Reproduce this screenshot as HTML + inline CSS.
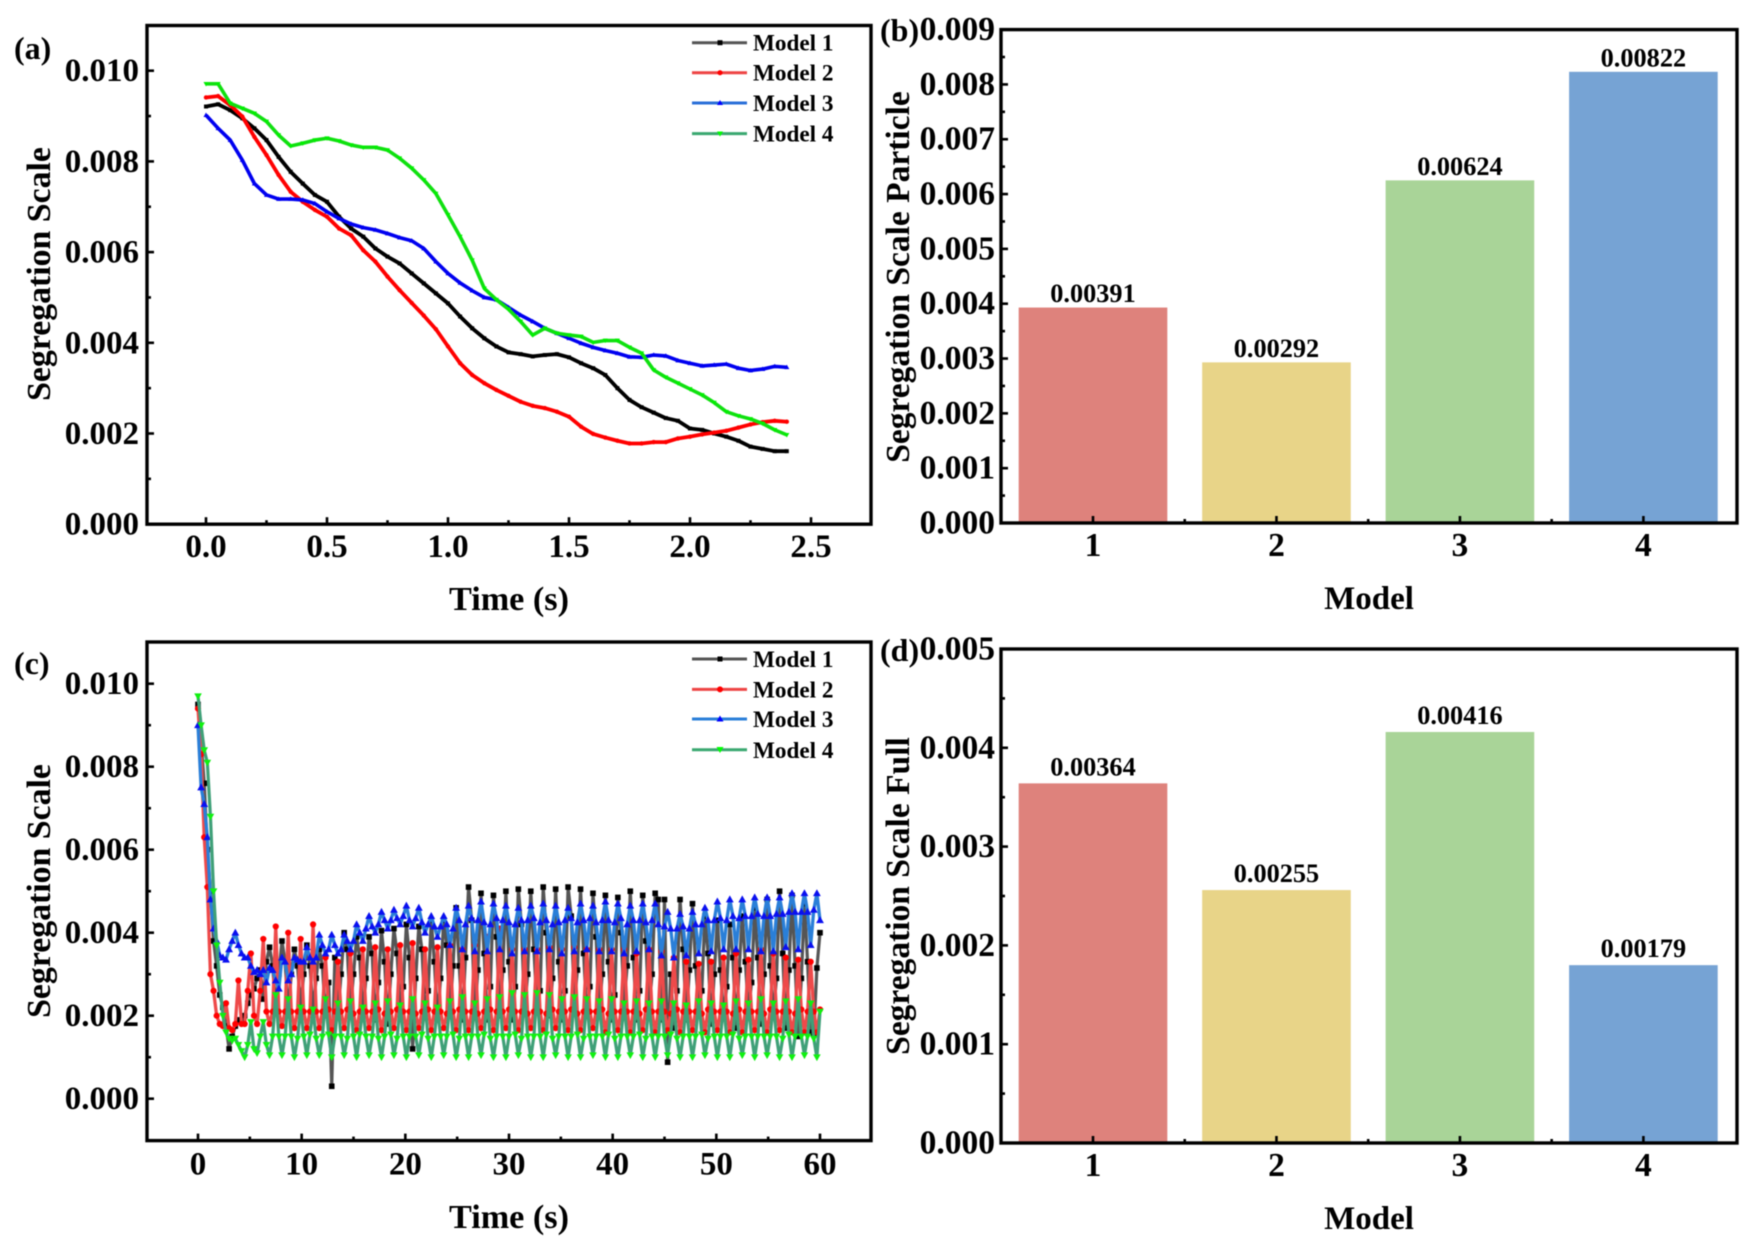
<!DOCTYPE html>
<html lang="en">
<head>
<meta charset="utf-8">
<title>Segregation Scale Charts</title>
<style>
html,body{margin:0;padding:0;background:#fff;}
svg{display:block;filter:blur(0.6px);}
text{font-family:"Liberation Serif",serif;font-weight:bold;fill:#000;}
</style>
</head>
<body>
<svg id="figure" xmlns="http://www.w3.org/2000/svg" width="1757" height="1242" viewBox="0 0 1757 1242">
  <rect x="0" y="0" width="1757" height="1242" fill="#fff"/>

  <g id="panel-a">
    <text x="14" y="59" font-size="32">(a)</text>
    <text transform="translate(50,274) rotate(-90)" text-anchor="middle" font-size="33.8">Segregation Scale</text>
    <text x="509" y="610" text-anchor="middle" font-size="34.2">Time (s)</text>
    <g font-size="23.2">
      <g><line x1="692" x2="747" y1="42.7" y2="42.7" stroke="#555" stroke-width="3"/><rect x="717.5" y="40.2" width="5" height="5" fill="#000"/><text x="753" y="50.5">Model 1</text></g>
      <g><line x1="692" x2="747" y1="72.7" y2="72.7" stroke="#e44" stroke-width="3"/><circle cx="720" cy="72.7" r="2.6" fill="#f00"/><text x="753" y="80.5">Model 2</text></g>
      <g><line x1="692" x2="747" y1="103" y2="103" stroke="#2a6fd8" stroke-width="3"/><polygon points="720,100 723,105 717,105" fill="#00f"/><text x="753" y="111">Model 3</text></g>
      <g><line x1="692" x2="747" y1="133.6" y2="133.6" stroke="#3aa870" stroke-width="3"/><polygon points="717,131.5 723,131.5 720,136.5" fill="#0f0"/><text x="753" y="141.5">Model 4</text></g>
    </g>
  </g>

  <g id="panel-b">
    <text x="880" y="41" font-size="32">(b)</text>
    <text transform="translate(909,277) rotate(-90)" text-anchor="middle" font-size="33.5">Segregation Scale Particle</text>
    <text x="1369" y="609" text-anchor="middle" font-size="33">Model</text>
  </g>

  <g id="panel-c">
    <text x="14" y="674" font-size="32">(c)</text>
    <text transform="translate(50,891) rotate(-90)" text-anchor="middle" font-size="33.8">Segregation Scale</text>
    <text x="509" y="1228" text-anchor="middle" font-size="34.2">Time (s)</text>
    <g font-size="23.2">
      <g><line x1="692" x2="747" y1="659" y2="659" stroke="#555" stroke-width="3"/><rect x="717.5" y="656.5" width="5" height="5" fill="#000"/><text x="753" y="667">Model 1</text></g>
      <g><line x1="692" x2="747" y1="689.4" y2="689.4" stroke="#e44" stroke-width="3"/><circle cx="720" cy="689.4" r="3" fill="#f00"/><text x="753" y="697.4">Model 2</text></g>
      <g><line x1="692" x2="747" y1="719" y2="719" stroke="#2a7fd8" stroke-width="3"/><polygon points="720,715.5 723.5,721.5 716.5,721.5" fill="#00f"/><text x="753" y="727">Model 3</text></g>
      <g><line x1="692" x2="747" y1="749.8" y2="749.8" stroke="#3aa870" stroke-width="3"/><polygon points="716.5,747 723.5,747 720,753" fill="#0f0"/><text x="753" y="757.8">Model 4</text></g>
    </g>
  </g>

  <g id="panel-d">
    <text x="880" y="661" font-size="32">(d)</text>
    <text transform="translate(909,896) rotate(-90)" text-anchor="middle" font-size="33.5">Segregation Scale Full</text>
    <text x="1369" y="1229" text-anchor="middle" font-size="33">Model</text>
  </g>
</svg>

<script>
// Values below are in units of 0.001 (segregation scale x 1000).
const timesA = [0,0.05,0.1,0.15,0.2,0.25,0.3,0.35,0.4,0.45,0.5,0.55,0.6,0.65,0.7,0.75,0.8,0.85,0.9,0.95,1,1.05,1.1,1.15,1.2,1.25,1.3,1.35,1.4,1.45,1.5,1.55,1.6,1.65,1.7,1.75,1.8,1.85,1.9,1.95,2,2.05,2.1,2.15,2.2,2.25,2.3,2.35,2.4];
const model1A = [9.21,9.26,9.13,8.95,8.73,8.47,8.10,7.77,7.51,7.26,7.11,6.78,6.52,6.34,6.08,5.90,5.75,5.53,5.31,5.09,4.87,4.58,4.32,4.10,3.92,3.79,3.75,3.70,3.73,3.75,3.68,3.55,3.44,3.29,3.00,2.74,2.58,2.46,2.34,2.28,2.11,2.08,2.00,1.93,1.84,1.71,1.66,1.61,1.61];
const model2A = [9.41,9.44,9.24,8.99,8.54,8.14,7.70,7.33,7.11,6.93,6.78,6.52,6.37,6.04,5.79,5.46,5.16,4.88,4.60,4.30,3.92,3.55,3.29,3.11,2.96,2.83,2.70,2.61,2.56,2.48,2.37,2.15,1.99,1.91,1.84,1.78,1.78,1.81,1.81,1.89,1.93,1.98,2.02,2.06,2.13,2.20,2.25,2.28,2.26];
const model3A = [9.02,8.73,8.47,8.03,7.51,7.26,7.17,7.17,7.15,7.07,6.89,6.74,6.62,6.54,6.49,6.41,6.32,6.25,6.08,5.79,5.53,5.32,5.15,5.00,4.95,4.78,4.61,4.47,4.32,4.21,4.10,3.99,3.90,3.83,3.77,3.69,3.68,3.73,3.71,3.61,3.55,3.49,3.51,3.53,3.44,3.39,3.42,3.48,3.46];
const model4A = [9.71,9.71,9.28,9.17,9.06,8.88,8.58,8.34,8.40,8.47,8.51,8.45,8.36,8.31,8.31,8.25,8.07,7.85,7.59,7.29,6.82,6.34,5.82,5.20,4.95,4.74,4.47,4.17,4.32,4.21,4.17,4.14,4.01,4.05,4.05,3.90,3.77,3.40,3.24,3.11,2.98,2.85,2.68,2.48,2.39,2.32,2.22,2.08,1.97];

// Panel (c): one sample every 0.3 s, 0 to 60 s.
const sampleStepC = 0.3;
const model1C = [9.5,8.6,7.6,6.0,5.0,3.8,3.2,2.5,2.2,1.75,1.2,1.5,1.75,1.9,1.85,2.0,2.3,2.5,2.65,2.9,3.1,2.4,3.3,3.65,3.2,2.2,3.0,3.8,3.3,2.1,3.0,3.6,3.2,2.2,3.0,3.7,3.2,2.1,2.9,3.6,3.2,2.0,2.8,0.3,3.4,2.0,3.0,4.0,3.6,2.1,3.0,3.9,
3.4,2.0,2.9,3.9, 3.5,1.9,2.8,4.05, 3.3,1.8,3.0,4.1, 3.5,2.2,2.7,4.2, 3.4,1.2,2.9,4.15, 3.6,2.1,2.6,4.3, 3.3,1.9,2.9,4.3, 3.7,2.0,3.2,4.6,
3.2,1.9,3.4,5.1, 4.3,2.0,3.1,4.95, 3.5,1.9,2.7,4.9, 3.9,2.0,3.1,5.0, 3.3,1.9,2.7,5.05, 4.2,2.1,3.0,5.0, 3.6,2.2,2.6,5.1, 4.0,2.0,2.9,5.05,
3.3,1.9,2.6,5.1, 4.4,2.3,3.1,5.05, 3.5,2.0,2.7,4.95, 3.9,2.1,3.0,4.9, 3.3,1.9,2.5,4.85, 4.0,2.3,3.2,5.0, 3.4,1.9,2.6,4.9, 3.8,2.1,3.0,4.95,
4.8,1.9,4.8,0.88, 3.0,1.7,2.6,4.8, 3.6,1.9,3.1,4.7, 3.2,2.2,2.6,4.4, 3.5,1.8,3.0,4.3, 3.1,2.0,2.7,4.2, 3.4,1.7,3.1,4.4, 3.3,2.1,2.8,4.6,
3.4,1.8,3.0,4.8, 3.2,2.0,2.9,5.0, 3.5,1.7,3.1,4.9, 3.2,1.5,2.9,4.7, 3.3,1.6,1.55,3.15, 4.0];
const model2C = [9.4,8.3,6.3,5.1,3.0,2.6,2.0,1.8,1.75,2.3,1.7,1.65,1.8,2.85,1.8,1.8,2.6,3.5,2.0,1.8,2.6,3.85,2.1,1.8,2.1,4.15,2.1,1.75,2.1,4.0,2.1,1.7,2.1,3.85,2.1,1.7,2.1,4.2,2.1,1.7,2.1,3.4,2.15,1.65,
2.1,3.3,2.1,1.7, 2.15,3.5,2.05,1.65, 2.1,3.6,2.1,1.7, 2.1,3.65,2.15,1.65, 2.05,3.6,2.1,1.7, 2.15,3.7,2.1,1.65, 2.1,3.75,2.05,1.7, 2.1,3.6,2.15,1.65,
2.1,3.65,2.1,1.7, 2.05,3.7,2.1,1.65, 2.15,3.6,2.1,1.65, 2.1,3.7,2.05,1.7, 2.1,3.9,2.15,1.65, 2.1,4.1,2.1,1.7, 2.15,3.6,2.1,1.65, 2.1,3.6,2.05,1.7,
2.1,3.6,2.1,1.65, 2.05,3.65,2.15,1.7, 2.1,3.6,2.1,1.65, 2.15,3.65,2.05,1.65, 2.1,3.6,2.1,1.7, 2.1,3.6,2.15,1.6, 2.05,3.6,2.1,1.65, 2.1,3.6,2.1,1.6,
2.1,3.5,2.05,1.65, 2.15,3.6,2.1,1.6, 2.1,3.55,2.1,1.65, 2.05,3.4,2.15,1.6, 2.1,3.3,2.1,1.65, 2.1,3.25,2.05,1.6, 2.15,3.3,2.1,1.65, 2.1,3.4,2.1,1.6,
2.05,3.5,2.15,1.6, 2.1,3.35,2.1,1.65, 2.1,3.6,2.05,1.6, 2.15,3.5,2.1,1.65, 2.1,3.4,2.1,1.6, 2.05,3.35,2.15,1.6, 2.1,3.3,2.1,1.6, 2.15];
const model3C = [9.0,7.5,7.1,6.3,4.8,4.1,3.8,3.45,3.4,3.35,3.6,3.8,4.0,3.7,3.5,3.4,3.4,3.2,3.05,3.1,3.0,3.1,2.8,3.15,3.1,2.85,2.65,3.4,3.3,2.85,3.0,3.4,3.35,3.3,3.3,3.65,3.4,3.3,3.4,3.95,3.7,3.5,3.6,3.95,3.7,3.5,3.6,3.95,3.8,3.6,3.8,4.2,4.0,3.8,4.1,4.4,4.15,4.0,4.2,4.5,
4.3,4.1,4.3,4.55, 4.35,4.2,4.4,4.65, 4.3,4.15,4.35,4.6, 4.25,4.0,4.2,4.4, 4.15,3.9,4.15,4.4, 4.2,3.7,4.1,4.6, 4.3,3.6,4.2,4.65,
4.35,3.55,4.3,4.75, 4.25,3.55,4.2,4.7, 4.35,3.6,4.3,4.65, 4.25,3.5,4.2,4.6, 4.3,3.55,4.3,4.65, 4.35,3.55,4.25,4.7, 4.3,3.6,4.2,4.65,
4.25,3.5,4.3,4.6, 4.35,3.55,4.25,4.7, 4.3,3.6,4.35,4.65, 4.25,3.55,4.3,4.75, 4.3,3.55,4.25,4.7, 4.35,3.5,4.2,4.65, 4.3,3.55,4.3,4.7,
4.25,3.6,4.3,4.7, 4.2,3.45,4.15,4.5, 4.1,3.4,4.1,4.45, 4.15,3.45,4.1,4.5, 4.2,3.5,4.2,4.6, 4.3,3.55,4.3,4.75, 4.35,3.6,4.3,4.8,
4.4,3.6,4.35,4.8, 4.4,3.6,4.4,4.85, 4.45,3.55,4.4,4.85, 4.4,3.55,4.45,4.85, 4.45,3.65,4.5,4.95, 4.5,3.6,4.5,4.95, 4.5,3.7,4.55,4.95, 4.3];
const model4C = [9.7,9.0,8.4,8.1,6.8,5.0,3.7,2.8,2.0,1.6,1.45,1.4,1.45,1.3,1.15,1.0,1.3,1.85,1.2,1.1,1.5,1.85,1.3,
1.05,1.5,2.5,1.5, 1.05,1.5,2.4,1.5, 1.0,1.45,2.2,1.5, 1.05,1.55,2.15,1.45, 1.05,1.5,2.4,1.55, 1.0,1.5,2.3,1.5, 1.05,1.45,2.35,1.5, 1.0,1.55,2.2,1.5,
1.05,1.5,2.3,1.45, 1.0,1.5,2.35,1.55, 1.05,1.45,2.25,1.5, 1.0,1.5,2.4,1.5, 1.05,1.55,2.3,1.45, 1.0,1.5,2.2,1.5, 1.05,1.5,2.35,1.55, 1.0,1.45,2.45,1.5,
1.0,1.5,2.3,1.5, 1.05,1.55,2.4,1.45, 1.0,1.5,2.45,1.5, 1.0,1.5,2.55,1.55, 1.05,1.45,2.5,1.5, 1.0,1.5,2.55,1.5, 1.0,1.55,2.5,1.45, 1.05,1.5,2.4,1.5,
1.0,1.5,2.45,1.55, 1.0,1.45,2.4,1.5, 1.05,1.5,2.35,1.5, 1.0,1.55,2.4,1.45, 1.0,1.5,2.3,1.5, 1.05,1.5,2.35,1.55, 1.0,1.45,2.3,1.5, 1.0,1.5,2.35,1.5,
1.05,1.55,2.3,1.45, 1.0,1.5,2.25,1.5, 1.0,1.5,2.35,1.55, 1.05,1.45,2.3,1.5, 1.0,1.5,2.25,1.5, 1.0,1.55,2.35,1.45, 1.05,1.5,2.3,1.5, 1.0,1.5,2.4,1.5,
1.05,1.5,2.3,1.5, 1.0,1.45,2.35,1.55, 1.0,1.5,2.4,1.5, 1.05,1.5,2.3,1.45,
1.0, 2.1];

const barCategories = [1,2,3,4];
const barLabelsB = ["0.00391","0.00292","0.00624","0.00822"];
const barValuesB = [3.93,2.93,6.25,8.23];
const barLabelsD = ["0.00364","0.00255","0.00416","0.00179"];
const barValuesD = [3.64,2.56,4.16,1.80];

const yTicksLine = ["0.000","0.002","0.004","0.006","0.008","0.010"];
const yTicksB = ["0.000","0.001","0.002","0.003","0.004","0.005","0.006","0.007","0.008","0.009"];
const yTicksD = ["0.000","0.001","0.002","0.003","0.004","0.005"];
const xTicksA = ["0.0","0.5","1.0","1.5","2.0","2.5"];
const xTicksC = ["0","10","20","30","40","50","60"];

const NS = 'http://www.w3.org/2000/svg';
function svgEl(tag, attrs, parent) {
  const el = document.createElementNS(NS, tag);
  for (const k in attrs) el.setAttribute(k, attrs[k]);
  parent.appendChild(el);
  return el;
}

function linear(d0, d1, r0, r1) {
  return v => r0 + (v - d0) * (r1 - r0) / (d1 - d0);
}

function drawFrame(parent, box, xScale, yScale, xTicks, yTicks, xMinors, yMinors, opts) {
  const ticks = svgEl('g', {stroke:'#000', 'stroke-width':2.6, fill:'none'}, parent);
  
  
  const labels = svgEl('g', {'font-size':opts.fontSize}, parent);
  
  
  xTicks.forEach(t => {
    const x = xScale(t.v);
    const tick = svgEl('line', {x1:x, x2:x, y1:box.b, y2:box.b - 7}, ticks);
    
    
    const lab = svgEl('text', {x:x, y:opts.xLabelY, 'text-anchor':'middle'}, labels);
    
    
    lab.textContent = t.label;
  });
  xMinors.forEach(v => {
    const x = xScale(v);
    const tick = svgEl('line', {x1:x, x2:x, y1:box.b, y2:box.b - 4}, ticks);
    
    
  });
  yTicks.forEach(t => {
    const y = yScale(t.v);
    const tick = svgEl('line', {x1:box.l, x2:box.l + 7, y1:y, y2:y}, ticks);
    
    
    const lab = svgEl('text', {x:opts.yLabelX, y:y + 10.5, 'text-anchor':'end'}, labels);
    
    
    lab.textContent = t.label;
  });
  yMinors.forEach(v => {
    const y = yScale(v);
    const tick = svgEl('line', {x1:box.l, x2:box.l + 4, y1:y, y2:y}, ticks);
    
    
  });
  const frame = svgEl('rect', {x:box.l, y:box.t, width:box.r - box.l, height:box.b - box.t, fill:'none', stroke:'#000', 'stroke-width':3.4}, parent);
  
  
}

function drawMarker(parent, kind, x, y, s, color) {
  let m;
  if (kind === 'square') {
    m = svgEl('rect', {x:x - s, y:y - s, width:2 * s, height:2 * s, fill:color}, parent);
  } else if (kind === 'circle') {
    m = svgEl('circle', {cx:x, cy:y, r:s, fill:color}, parent);
  } else if (kind === 'up') {
    m = svgEl('polygon', {points:`${x},${y - s * 1.2} ${x + s * 1.15},${y + s * 0.85} ${x - s * 1.15},${y + s * 0.85}`, fill:color}, parent);
  } else {
    m = svgEl('polygon', {points:`${x},${y + s * 1.2} ${x + s * 1.15},${y - s * 0.85} ${x - s * 1.15},${y - s * 0.85}`, fill:color}, parent);
  }
  
  
}

function drawSeries(parent, name, xs, ys, xScale, yScale, style) {
  const g = svgEl('g', {}, parent);
  
  
  const pts = ys.map((v, i) => `${xScale(xs[i]).toFixed(2)},${yScale(v).toFixed(2)}`).join(' ');
  const line = svgEl('polyline', {points:pts, fill:'none', stroke:style.line, 'stroke-width':style.width, 'stroke-linejoin':'round'}, g);
  
  
  ys.forEach((v, i) => drawMarker(g, style.kind, xScale(xs[i]), yScale(v), style.size, style.marker));
}

function drawBars(parent, box, xScale, yScale, values, labels, labelGap) {
  const colors = ['#de827c','#e8d488','#a9d498','#76a3d4'];
  const halfWidth = 0.405;
  values.forEach((v, i) => {
    const cat = barCategories[i];
    const x0 = xScale(cat - halfWidth), x1 = xScale(cat + halfWidth);
    const top = yScale(v);
    const bar = svgEl('rect', {x:x0, y:top, width:x1 - x0, height:box.b - top, fill:colors[i]}, parent);
    
    
    const t = svgEl('text', {x:xScale(cat), y:top - labelGap, 'text-anchor':'middle', 'font-size':26.3}, parent);
    
    
    t.textContent = labels[i];
  });
}

function tickObjs(labels, scale) {
  return labels.map(l => ({v: parseFloat(l) * scale, label: l}));
}

// Panel (a)
(function () {
  const p = document.getElementById('panel-a');
  const box = {l:147, r:871, t:25.5, b:524.2};
  const x = linear(0, 2.5, 206, 811);
  const y = linear(0, 10, 524.2, 70.7);
  const styles = [
    {line:'#000', marker:'#000', width:3.8, kind:'square', size:2},
    {line:'#f00', marker:'#f00', width:3.8, kind:'circle', size:2.2},
    {line:'#0000f0', marker:'#0000f0', width:3.6, kind:'up', size:2.2},
    {line:'#10e010', marker:'#00f000', width:3.6, kind:'down', size:2.2}
  ];
  drawSeries(p, 'series-model-1', timesA, model1A, x, y, styles[0]);
  drawSeries(p, 'series-model-2', timesA, model2A, x, y, styles[1]);
  drawSeries(p, 'series-model-3', timesA, model3A, x, y, styles[2]);
  drawSeries(p, 'series-model-4', timesA, model4A, x, y, styles[3]);
  drawFrame(p, box, x, y, tickObjs(xTicksA, 1), tickObjs(yTicksLine, 1000), [0.25,0.75,1.25,1.75,2.25], [1,3,5,7,9], {fontSize:33, xLabelY:557, yLabelX:139});
})();

// Panel (c)
(function () {
  const p = document.getElementById('panel-c');
  const box = {l:147, r:871, t:642, b:1140.6};
  const x = linear(0, 60, 198, 820);
  const y = linear(0, 10, 1098.7, 683.7);
  const styles = [
    {line:'#555', marker:'#000', width:3.2, kind:'square', size:2.8},
    {line:'#ee4a4a', marker:'#f00', width:3.3, kind:'circle', size:3.1},
    {line:'#2a7fd8', marker:'#0a10f0', width:3.3, kind:'up', size:3.4},
    {line:'#3fa078', marker:'#10f010', width:3.2, kind:'down', size:3.3}
  ];
  const timeOf = arr => arr.map((_, i) => i * sampleStepC);
  drawSeries(p, 'series-model-1', timeOf(model1C), model1C, x, y, styles[0]);
  drawSeries(p, 'series-model-2', timeOf(model2C), model2C, x, y, styles[1]);
  drawSeries(p, 'series-model-3', timeOf(model3C), model3C, x, y, styles[2]);
  drawSeries(p, 'series-model-4', timeOf(model4C), model4C, x, y, styles[3]);
  drawFrame(p, box, x, y, tickObjs(xTicksC, 1), tickObjs(yTicksLine, 1000), [5,15,25,35,45,55], [1,3,5,7,9], {fontSize:33, xLabelY:1174.5, yLabelX:139});
})();

// Panel (b)
(function () {
  const p = document.getElementById('panel-b');
  const box = {l:1001, r:1737, t:29.6, b:523};
  const x = linear(1, 4, 1093, 1643.4);
  const y = linear(0, 9, 523, 29.6);
  drawBars(p, box, x, y, barValuesB, barLabelsB, 5.5);
  const xt = barCategories.map(c => ({v:c, label:String(c)}));
  const minors = [];
  for (const v of yTicksB.slice(0, -1)) minors.push(parseFloat(v) * 1000 + 0.5);
  drawFrame(p, box, x, y, xt, tickObjs(yTicksB, 1000), [1.5,2.5,3.5], minors, {fontSize:33.5, xLabelY:556, yLabelX:995});
})();

// Panel (d)
(function () {
  const p = document.getElementById('panel-d');
  const box = {l:1001, r:1737, t:649, b:1143};
  const x = linear(1, 4, 1093, 1643.4);
  const y = linear(0, 5, 1143, 649);
  drawBars(p, box, x, y, barValuesD, barLabelsD, 8);
  const xt = barCategories.map(c => ({v:c, label:String(c)}));
  const minors = [];
  for (const v of yTicksD.slice(0, -1)) minors.push(parseFloat(v) * 1000 + 0.5);
  drawFrame(p, box, x, y, xt, tickObjs(yTicksD, 1000), [1.5,2.5,3.5], minors, {fontSize:33.5, xLabelY:1176, yLabelX:995});
})();
</script>
</body>
</html>
